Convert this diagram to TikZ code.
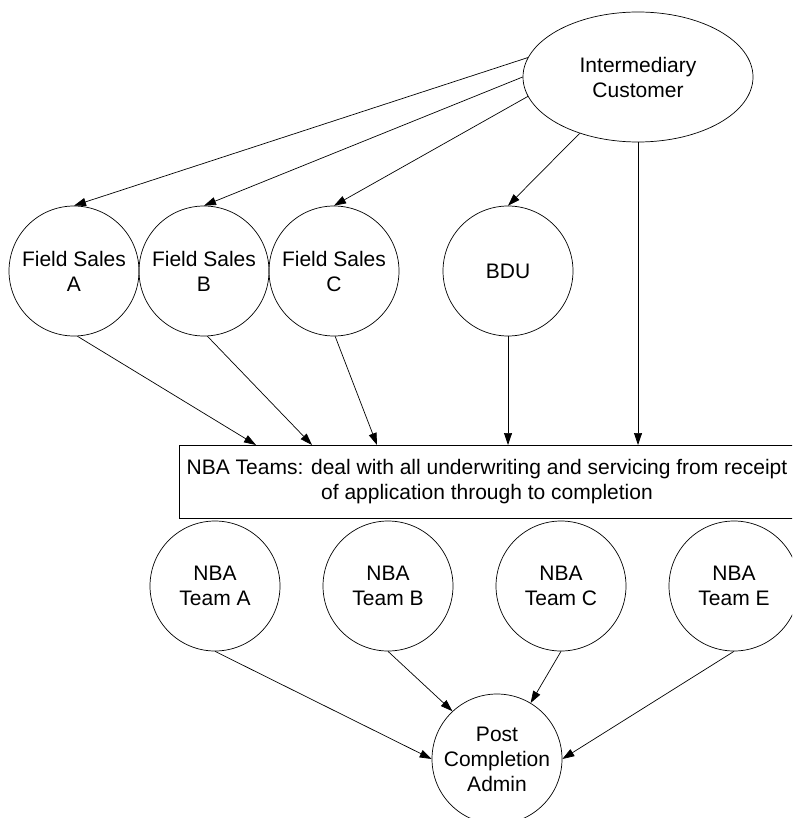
\documentclass[tikz,border=0pt]{standalone}
\usepackage{fontspec}
\setmainfont{Liberation Sans}
\usetikzlibrary{arrows.meta,shapes.geometric}
\begin{document}
\begin{tikzpicture}[x=1pt,y=-1pt,
  every node/.style={font=\fontsize{21}{25}\selectfont, align=center},
  unit/.style={draw, circle, minimum size=130pt, inner sep=0pt, line width=0.7pt},
  source/.style={draw, ellipse, minimum width=230pt, minimum height=130pt, inner sep=0pt, line width=0.7pt},
  band/.style={draw, rectangle, minimum width=616pt, minimum height=73pt, inner sep=0pt, line width=0.7pt},
  flow/.style={line width=0.7pt, -{Triangle[length=12pt,width=8pt]}},
  plain/.style={line width=0.7pt}]
\useasboundingbox (0,0) rectangle (792,818);
\clip (0,0) rectangle (792,818);

% customer at the top
\node[source] (cust) at (638,77) {Intermediary\\Customer};

% sales channels
\node[unit] (fsA) at (74,271)  {Field Sales\\A};
\node[unit] (fsB) at (204,271) {Field Sales\\B};
\node[unit] (fsC) at (334,271) {Field Sales\\C};
\node[unit] (bdu) at (508,271) {BDU};

% processing band
\node[band] (nba) at (487,481.5) {NBA Teams: deal with all underwriting and servicing from receipt\\of application through to completion};

% teams
\node[unit] (tA) at (215,586) {NBA\\Team A};
\node[unit] (tB) at (388,586) {NBA\\Team B};
\node[unit] (tC) at (561,586) {NBA\\Team C};
\node[unit] (tE) at (734,586) {NBA\\Team E};

% final admin
\node[unit] (post) at (497,759) {Post\\Completion\\Admin};

% entry points on the top edge of the band
\coordinate (inA) at (256,445);
\coordinate (inB) at (312,445);
\coordinate (inC) at (377,445);
\coordinate (inD) at (508,445);
\coordinate (inE) at (638,445);

% customer to channels
\draw[flow] (cust.170) -- (fsA.north);
\draw[flow] (cust.west) -- (fsB.north);
\draw[flow] (cust.190) -- (fsC.north);
\draw[flow] (cust.224) -- (bdu.north);

% channels to the band
\draw[flow] (fsA.-87) -- (inA);
\draw[flow] (fsB.-87) -- (inB);
\draw[flow] (fsC.-89) -- (inC);
\draw[flow] (bdu.south) -- (inD);
\draw[flow] (cust.south) -- (inE);

% teams to admin
\draw[flow] (tA.south) -- (post.west);
\draw[flow] (tB.south) -- (post.133);
\draw[flow] (tC.south) -- (post.59);
\draw[flow] (tE.south) -- (post.east);
\end{tikzpicture}
\end{document}
